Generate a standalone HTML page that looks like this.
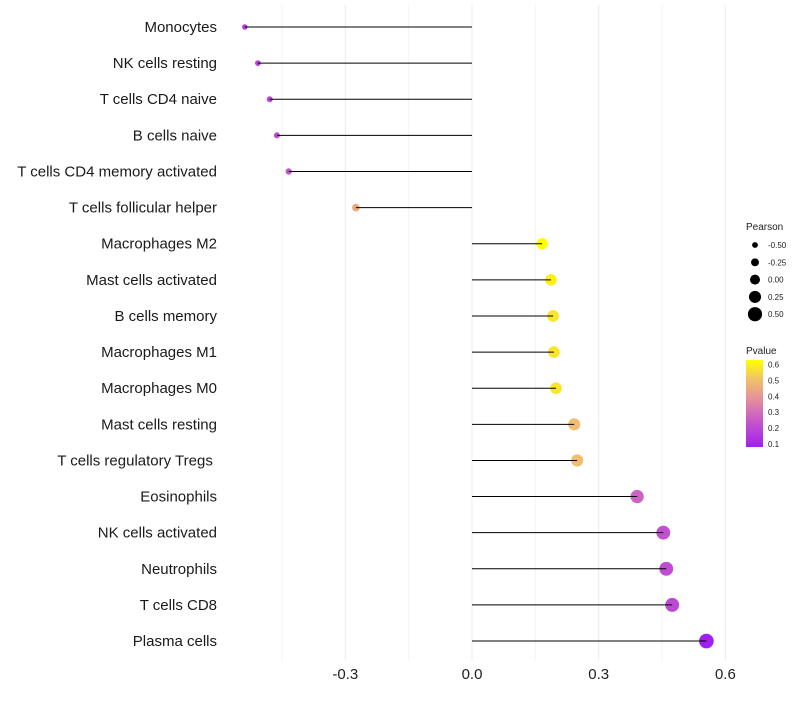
<!DOCTYPE html>
<html><head><meta charset="utf-8"><style>
body{margin:0;background:#fff;font-family:"Liberation Sans",sans-serif}
</style></head><body>
<svg id="c" width="800" height="700" xmlns="http://www.w3.org/2000/svg" font-family="Liberation Sans, sans-serif"></svg>
<script>
const categories=["Monocytes","NK cells resting","T cells CD4 naive","B cells naive","T cells CD4 memory activated","T cells follicular helper","Macrophages M2","Mast cells activated","B cells memory","Macrophages M1","Macrophages M0","Mast cells resting","T cells regulatory  Tregs\u00a0","Eosinophils","NK cells activated","Neutrophils","T cells CD8","Plasma cells"];
const pearson=[-0.538,-0.507,-0.479,-0.462,-0.434,-0.275,0.166,0.187,0.192,0.194,0.199,0.242,0.249,0.391,0.453,0.46,0.474,0.555];
const pvalue=[0.17,0.18,0.2,0.21,0.24,0.45,0.63,0.6,0.58,0.58,0.58,0.5,0.5,0.27,0.22,0.21,0.2,0.08];
const xTicks=[-0.3,0,0.3,0.6];
const xTickLabels=["-0.3","0.0","0.3","0.6"];
const sizeBreaks=[-0.5,-0.25,0,0.25,0.5];
const sizeLabels=["-0.50","-0.25","0.00","0.25","0.50"];
const pTicks=[0.1,0.2,0.3,0.4,0.5,0.6];
const svg=document.getElementById('c');
const NS="http://www.w3.org/2000/svg";
function mk(t,a,p){const e=document.createElementNS(NS,t);for(const k in a)e.setAttribute(k,a[k]);(p||svg).appendChild(e);return e;}
const x=v=>472+v*422.3;
const y=i=>27+i*36.12;
const r=v=>5+v*4.2;
const stops=[[0.08,[160,32,240]],[0.25,[200,90,200]],[0.4,[230,150,150]],[0.5,[240,190,110]],[0.63,[255,255,0]]];
function col(p){p=Math.max(0.08,Math.min(0.63,p));for(let i=0;i<stops.length-1;i++){const[a,ca]=stops[i],[b,cb]=stops[i+1];if(p<=b){const t=(p-a)/(b-a);return 'rgb('+ca.map((c,j)=>Math.round(c+(cb[j]-c)*t)).join(',')+')';}}return 'rgb(255,255,0)';}
[-0.45,-0.15,0.15,0.45].forEach(v=>{const g=mk('line',{x1:x(v),x2:x(v),y1:5,y2:660,stroke:'#f3f3f3','stroke-width':1});

});
xTicks.forEach((v,i)=>{const g=mk('line',{x1:x(v),x2:x(v),y1:5,y2:660,stroke:'#ebebeb','stroke-width':1});


const t=mk('text',{x:x(v),y:679,'text-anchor':'middle','font-size':15,fill:'#222'});t.textContent=xTickLabels[i];

});
categories.forEach((c,i)=>{
const t=mk('text',{x:217,y:y(i)+5,'text-anchor':'end','font-size':15,fill:'#1a1a1a','xml:space':'preserve'});t.textContent=c;


const d=mk('circle',{cx:x(pearson[i]),cy:y(i),r:r(pearson[i]),fill:col(pvalue[i])});


const l=mk('line',{x1:x(0),x2:x(pearson[i]),y1:y(i),y2:y(i),stroke:'#000','stroke-width':1});


});
let t=mk('text',{x:746,y:230,'font-size':10,fill:'#222'});t.textContent='Pearson';


sizeBreaks.forEach((v,i)=>{const cy=245+i*17.3;
const c=mk('circle',{cx:755,cy:cy,r:r(v),fill:'#000'});


const tt=mk('text',{x:768,y:cy+3,'font-size':8,fill:'#222'});tt.textContent=sizeLabels[i];

});
t=mk('text',{x:746,y:354,'font-size':10,fill:'#222'});t.textContent='Pvalue';


const defs=mk('defs',{});const lg=mk('linearGradient',{id:'pg',x1:0,y1:1,x2:0,y2:0},defs);
stops.forEach(s=>{mk('stop',{offset:(s[0]-0.08)/0.55,'stop-color':'rgb('+s[1].join(',')+')'},lg);});
const py=p=>447-(p-0.08)/0.55*87;
const bar=mk('rect',{x:746,y:py(0.63),width:17,height:87,fill:'url(#pg)'});


pTicks.forEach(p=>{const tt=mk('text',{x:768,y:py(p)+3,'font-size':8,fill:'#222'});tt.textContent=p.toFixed(1);

});
</script>
</body></html>
